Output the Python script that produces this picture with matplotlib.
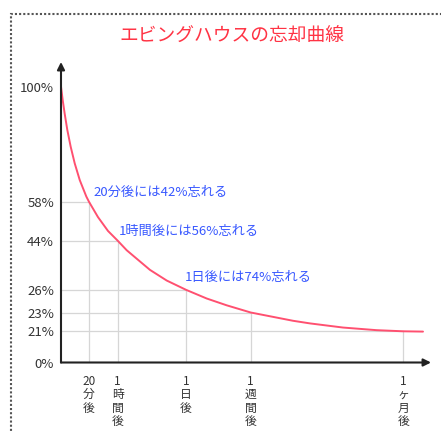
import numpy as np
import matplotlib
matplotlib.use("Agg")
import matplotlib.pyplot as plt
from matplotlib.patches import Rectangle

plt.rcParams['font.family'] = ['Noto Sans CJK JP', 'DejaVu Sans']

# ---------------- data ----------------
title = "エビングハウスの忘却曲線"

checkpoint_minutes = [20, 60, 1440, 10080, 43200]
checkpoint_labels = ["20\n分\n後", "1\n時\n間\n後", "1\n日\n後", "1\n週\n間\n後", "1\nヶ\n月\n後"]
checkpoint_retention = [58, 44, 26, 23, 21]

y_tick_values = [100, 58, 44, 26, 23, 21, 0]
y_tick_labels = ["100%", "58%", "44%", "26%", "23%", "21%", "0%"]

# retention curve (minutes elapsed, % retained)
curve_minutes = [0, 1.2, 2.6, 4.5, 6.9, 9.8, 13.4, 18.1, 20, 32.5, 46.5, 60,
                 242, 444, 712, 1050, 1440, 4204, 6873, 10080,
                 19260, 22950, 30110, 37420, 43200, 49240]
curve_retention = [100, 95.1, 90.2, 84.2, 78.1, 72.0, 65.9, 59.9, 58, 52.5, 47.5, 44,
                   40.5, 37.4, 33.3, 29.4, 26, 24.85, 23.95, 23,
                   22.12, 21.84, 21.40, 21.12, 21, 20.8]

annotation_texts = ["20分後には42%忘れる", "1時間後には56%忘れる", "1日後には74%忘れる"]
annotation_checkpoint = [0, 1, 2]

# ---------------- layout (schematic, non-linear axes) ----------------
X_ANCHOR_VAL = [0, 20, 60, 1440, 10080, 43200, 52000]
X_ANCHOR_PX = [0, 28, 56.7, 125, 189.7, 342.3, 371]
Y_ANCHOR_VAL = [0, 21, 23, 26, 44, 58, 100, 120]
Y_ANCHOR_PX = [0, 31.2, 50, 72.7, 121.8, 160.7, 276, 330.9]


def fx(v):
    return np.interp(v, X_ANCHOR_VAL, X_ANCHOR_PX)


def ifx(p):
    return np.interp(p, X_ANCHOR_PX, X_ANCHOR_VAL)


def fy(v):
    return np.interp(v, Y_ANCHOR_VAL, Y_ANCHOR_PX)


def ify(p):
    return np.interp(p, Y_ANCHOR_PX, Y_ANCHOR_VAL)


W, H = 441, 432
fig = plt.figure(figsize=(W / 100, H / 100), dpi=100)
ax = fig.add_axes([61 / W, 1 - 362.5 / H, 370 / W, 300.5 / H])
ax.set_xscale('function', functions=(fx, ifx))
ax.set_yscale('function', functions=(fy, ify))
ax.set_xlim(0, float(ifx(370)))
ax.set_ylim(0, float(ify(300.5)))

for s in ax.spines.values():
    s.set_visible(False)

grid_c = '#d6d6d6'
for t, r in zip(checkpoint_minutes, checkpoint_retention):
    ax.plot([t, t], [0, r], color=grid_c, lw=0.9, zorder=1)
    ax.plot([0, t], [r, r], color=grid_c, lw=0.9, zorder=1)

ax.plot(curve_minutes, curve_retention, color='#ff5070', lw=1.4, zorder=3,
        solid_capstyle='round', solid_joinstyle='round')

arrow = dict(arrowstyle='-|>', color='#222222', lw=1.5, mutation_scale=11,
             shrinkA=0, shrinkB=0)
ax.annotate('', xy=(1, 0), xytext=(0, 0), xycoords='axes fraction',
            arrowprops=arrow, zorder=4)
ax.annotate('', xy=(0, 1), xytext=(0, 0), xycoords='axes fraction',
            arrowprops=arrow, zorder=4)

ax.set_yticks(y_tick_values, y_tick_labels)
ax.set_xticks(checkpoint_minutes, checkpoint_labels)
ax.tick_params(axis='y', length=0, pad=5, labelsize=9.5, labelcolor='#333333')
ax.tick_params(axis='x', length=0, pad=9, labelsize=8.5, labelcolor='#333333')
ax.yaxis.set_minor_locator(matplotlib.ticker.NullLocator())
ax.xaxis.set_minor_locator(matplotlib.ticker.NullLocator())
for lbl in ax.get_xticklabels():
    lbl.set_linespacing(1.03)

offsets = [(4, 9), (1.3, 9), (-1, 12.5)]
for txt, ci, off in zip(annotation_texts, annotation_checkpoint, offsets):
    ax.annotate(txt, xy=(checkpoint_minutes[ci], checkpoint_retention[ci]),
                xytext=off, textcoords='offset pixels', ha='left', va='center',
                fontsize=9.5, color='#3858ff')

fig.text(232 / W, 1 - 36 / H, title, ha='center', va='center',
         fontsize=13.5, color='#ff3344')

fig.add_artist(Rectangle((11 / W, -0.1), 1.2, 1 - 14 / H + 0.1,
                         transform=fig.transFigure, fill=False,
                         ls=(0, (1, 1)), lw=1.5, ec='#555555'))

fig.savefig('out.png', dpi=100)
